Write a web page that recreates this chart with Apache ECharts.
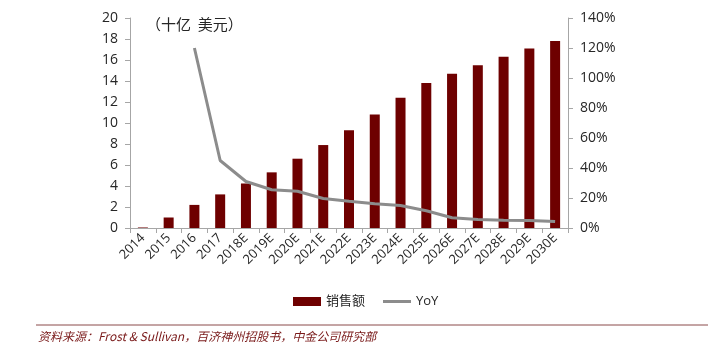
<!DOCTYPE html>
<html>
<head>
<meta charset="utf-8">
<script src="https://cdn.jsdelivr.net/npm/echarts@6/dist/echarts.min.js"></script>
<style>
  html, body { margin: 0; padding: 0; background: #fff; }
  #chart { width: 708px; height: 350px; }
</style>
</head>
<body>
<div id="chart"></div>
<script>
// Years on the category axis
const years = ['2014', '2015', '2016', '2017', '2018E', '2019E', '2020E', '2021E', '2022E',
  '2023E', '2024E', '2025E', '2026E', '2027E', '2028E', '2029E', '2030E'];
// Sales, billions of US dollars
const sales = [0.05, 1.0, 2.2, 3.2, 4.24, 5.3, 6.6, 7.9, 9.3, 10.8, 12.4, 13.8, 14.7, 15.5, 16.3, 17.1, 17.8];
// Year-over-year growth, percent
const yoy = [null, null, 120, 45, 31, 25.5, 24.5, 19.7, 17.8, 16.2, 15, 11.5, 6.8, 5.6, 5.2, 5.0, 4.3];

const leftTicks = { min: 0, max: 20, interval: 2 };
const rightTicks = { min: 0, max: 140, interval: 20 };

const font = '"Open Sans", "Noto Sans CJK SC", sans-serif';
const barColor = '#6e0000';
const lineColor = '#8c8c8c';
const axisColor = '#a6a6a6';
const textColor = '#262626';

const chart = echarts.init(document.getElementById('chart'), null, { renderer: 'canvas' });
chart.setOption({
  animation: false,
  backgroundColor: '#fff',
  grid: { left: 130, right: 140, top: 18, bottom: 122 },
  legend: {
    top: 290,
    left: 288,
    itemWidth: 28,
    itemHeight: 9,
    itemGap: 18,
    textStyle: { fontFamily: font, fontSize: 13, color: textColor },
    data: [
      { name: '销售额', icon: 'rect' },
      { name: 'YoY', icon: 'path://M0,0 L28,0 L28,3 L0,3 Z', itemStyle: { color: lineColor } }
    ]
  },
  xAxis: {
    type: 'category',
    data: years,
    boundaryGap: true,
    axisLine: { lineStyle: { color: axisColor, width: 1 } },
    axisTick: { show: true, length: 5, lineStyle: { color: axisColor } },
    axisLabel: { rotate: 45, fontFamily: font, fontSize: 13, color: textColor, margin: 8, interval: 0 }
  },
  yAxis: [
    {
      type: 'value',
      min: leftTicks.min, max: leftTicks.max, interval: leftTicks.interval,
      splitLine: { show: false },
      axisLine: { show: true, lineStyle: { color: axisColor } },
      axisTick: { show: true, length: 5, lineStyle: { color: axisColor } },
      axisLabel: { fontFamily: font, fontSize: 14, color: textColor, margin: 12 }
    },
    {
      type: 'value',
      min: rightTicks.min, max: rightTicks.max, interval: rightTicks.interval,
      splitLine: { show: false },
      axisLine: { show: true, lineStyle: { color: axisColor } },
      axisTick: { show: true, length: 5, lineStyle: { color: axisColor } },
      axisLabel: { fontFamily: font, fontSize: 14, color: textColor, margin: 12, formatter: '{value}%' }
    }
  ],
  series: [
    {
      name: '销售额',
      type: 'bar',
      data: sales,
      barWidth: 10,
      itemStyle: { color: barColor }
    },
    {
      name: 'YoY',
      type: 'line',
      yAxisIndex: 1,
      data: yoy,
      symbol: 'none',
      lineStyle: { color: lineColor, width: 3 },
      itemStyle: { color: lineColor }
    }
  ],
  graphic: [
    {
      type: 'text',
      left: 146,
      top: 17,
      style: { text: '（十亿  美元）', font: '15px "Noto Sans CJK SC", sans-serif', fill: textColor }
    },
    {
      type: 'line',
      shape: { x1: 36, y1: 325, x2: 708, y2: 325 },
      style: { stroke: '#8a4a4a', lineWidth: 1 }
    },
    {
      type: 'text',
      left: 38,
      top: 330,
      style: {
        text: '资料来源：Frost & Sullivan，百济神州招股书，中金公司研究部',
        font: 'italic 12px "Noto Sans CJK SC", sans-serif',
        fill: '#7a1a1a'
      }
    }
  ]
});
</script>
</body>
</html>
